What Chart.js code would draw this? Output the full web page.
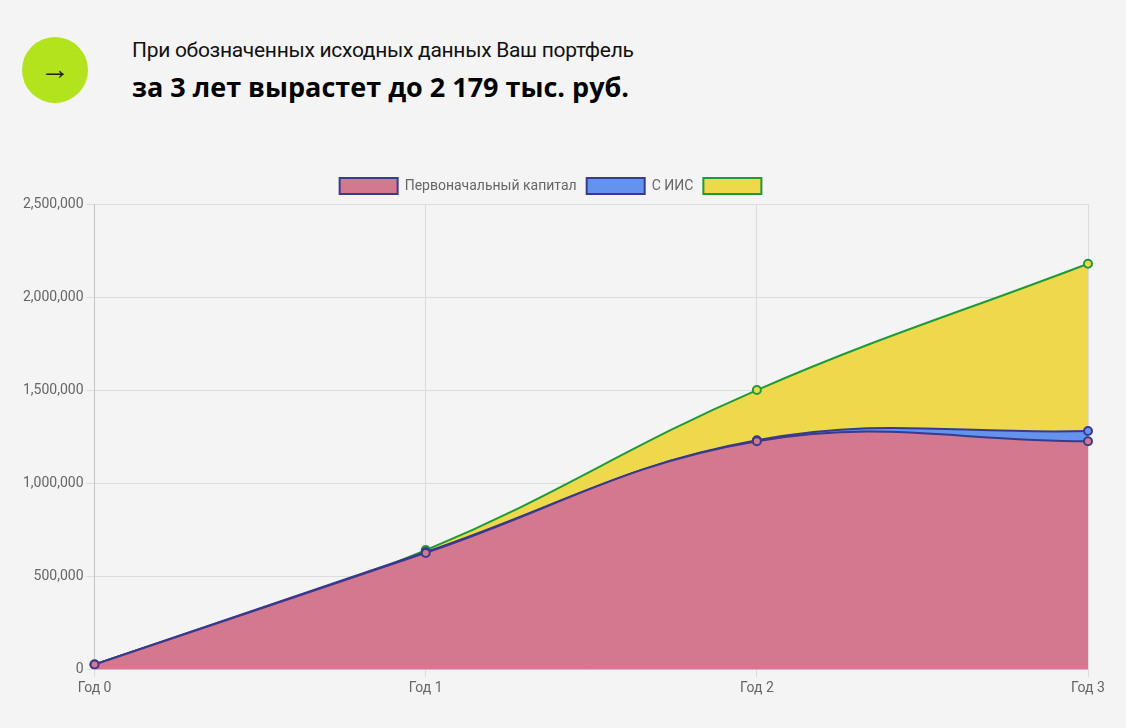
<!DOCTYPE html>
<html>
<head>
<meta charset="utf-8">
<script src="https://cdn.jsdelivr.net/npm/chart.js@4"></script>
<style>
    body { margin: 0; background: #f4f4f4; font-family: 'Open Sans', sans-serif; }
    .circle { position: absolute; left: 22px; top: 37px; width: 66px; height: 66px; border-radius: 50%;
        background: #b3e31c; color: #222; font-size: 30px; line-height: 62px; text-align: center; }
    .line1 { position: absolute; left: 132px; top: 38px; font-size: 21px; color: #111; font-family: Roboto, sans-serif; letter-spacing: -0.3px; }
    .line2 { position: absolute; left: 132px; top: 68px; font-size: 27px; font-weight: bold; color: #000; }
    .wrap { position: absolute; left: 20px; top: 168px; width: 1090px; height: 532px; }
</style>
</head>
<body>
<div class="circle">&rarr;</div>
<div class="line1">При обозначенных исходных данных Ваш портфель</div>
<div class="line2">за 3 лет вырастет до 2 179 тыс. руб.</div>
<div class="wrap"><canvas id="chart"></canvas></div>
<script>
// Chart data
const years = ['Год 0', 'Год 1', 'Год 2', 'Год 3'];
const baseCapital = [25000, 625000, 1225000, 1225000];
const withIis = [25000, 630000, 1230000, 1280000];
const total = [25000, 640000, 1500000, 2179000];

function series(label, data, fill, border) {
    return {
        label: label,
        data: data,
        fill: 'origin',
        backgroundColor: fill,
        borderColor: border,
        borderWidth: 2,
        pointRadius: 4,
        pointBackgroundColor: fill,
        pointBorderColor: border,
        pointBorderWidth: 2,
        tension: 0.4
    };
}

new Chart(document.getElementById('chart'), {
    type: 'line',
    data: {
        labels: years,
        datasets: [
            series('Первоначальный капитал', baseCapital, '#d4788f', '#3a3a8c'),
            series('С ИИС', withIis, '#6393ec', '#3a3a8c'),
            series('', total, '#eed84c', '#1f9a3a')
        ]
    },
    options: {
        responsive: true,
        maintainAspectRatio: false,
        animation: false,
        layout: { padding: { right: 22, bottom: 0 } },
        scales: {
            y: {
                min: 0, max: 2500000,
                ticks: { stepSize: 500000, color: '#666', font: { family: 'Roboto', size: 14 } },
                grid: { color: '#dcdcdc' }
            },
            x: {
                ticks: { color: '#666', font: { family: 'Roboto', size: 14 } },
                grid: { color: '#dcdcdc' }
            }
        },
        plugins: {
            legend: {
                labels: { color: '#666', boxWidth: 58, boxHeight: 16, font: { family: 'Roboto', size: 14 } }
            },
            tooltip: { enabled: false }
        }
    }
});
</script>
</body>
</html>
